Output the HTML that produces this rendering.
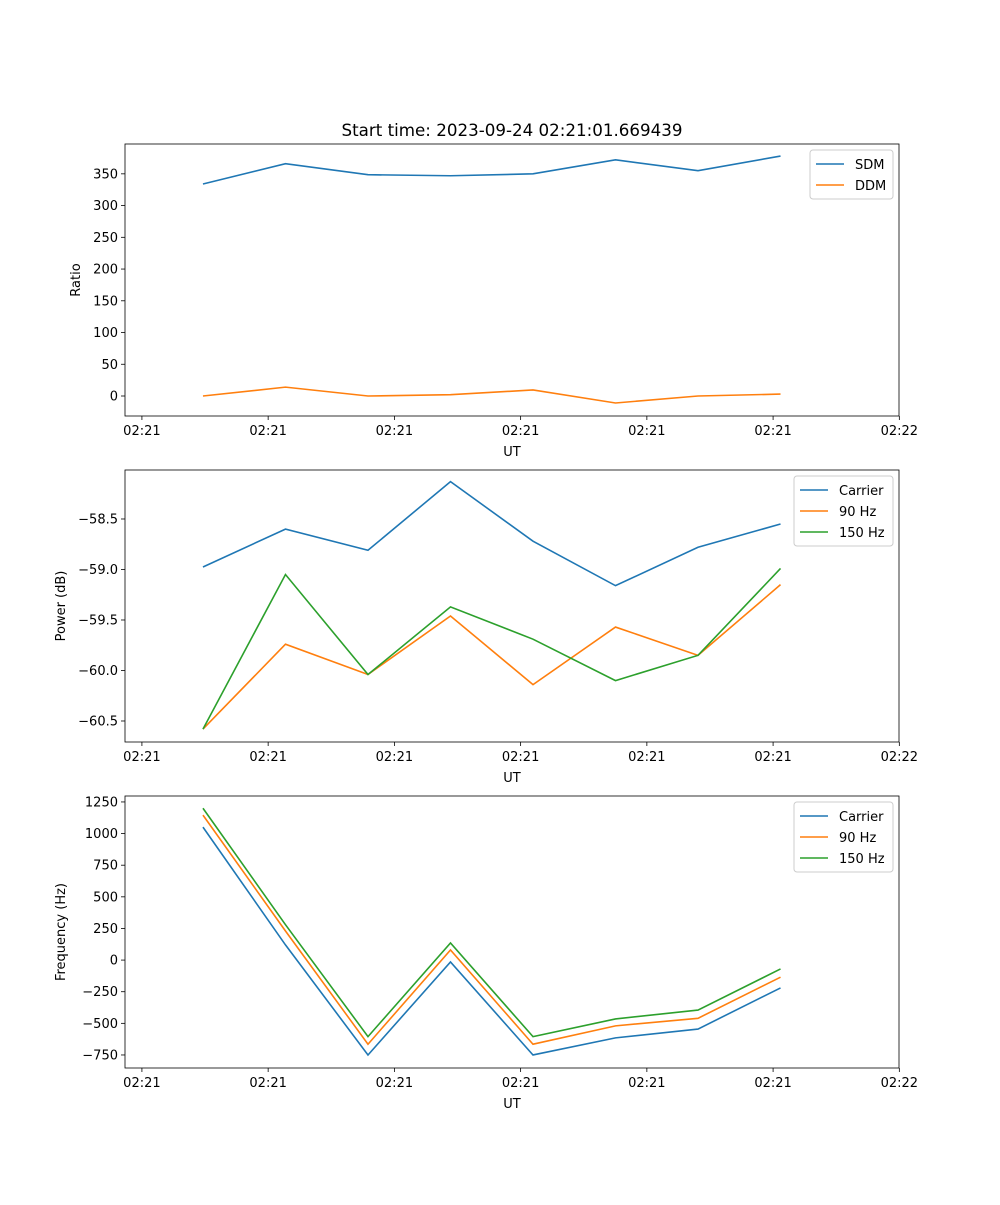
<!DOCTYPE html>
<html><head><meta charset="utf-8"><style>
body{margin:0;background:#fff}
svg text{font-family:"DejaVu Sans","Liberation Sans",sans-serif;font-size:13px;fill:#000}
</style></head><body>
<svg id="fig" width="1000" height="1200" xmlns="http://www.w3.org/2000/svg"></svg>
<script>
const xIdx = [0,1,2,3,4,5,6,7];
const xTickPos = [-0.74,0.79,2.32,3.85,5.38,6.91,8.44];
const xTickLabels = ["02:21","02:21","02:21","02:21","02:21","02:21","02:22"];
const sdm = [334,366,348.6,347,350,372,355,378];
const ddm = [0,14,0,2,9.5,-11,0,3];
const pCarrier = [-58.975,-58.60,-58.81,-58.13,-58.72,-59.16,-58.78,-58.55];
const p90 = [-60.58,-59.74,-60.04,-59.46,-60.14,-59.57,-59.85,-59.15];
const p150 = [-60.58,-59.05,-60.04,-59.37,-59.69,-60.10,-59.85,-58.99];
const fCarrier = [1051,120,-750,-15,-750,-615,-545,-220];
const f90 = [1146,230,-665,80,-665,-520,-460,-135];
const f150 = [1200,280,-605,135,-605,-465,-395,-70];
const ticks1 = [0,50,100,150,200,250,300,350];
const ticks2 = [-60.5,-60.0,-59.5,-59.0,-58.5];
const ticks2Labels = ["\u221260.5","\u221260.0","\u221259.5","\u221259.0","\u221258.5"];
const ticks3 = [-750,-500,-250,0,250,500,750,1000,1250];
const ticks3Labels = ["\u2212750","\u2212500","\u2212250","0","250","500","750","1000","1250"];

const NS="http://www.w3.org/2000/svg";
const svg=document.getElementById('fig');
function mk(tag,attrs,parent){const e=document.createElementNS(NS,tag);for(const k in attrs)e.setAttribute(k,attrs[k]);(parent||svg).appendChild(e);return e;}
const L=125,R=899,X0=-0.945,X1=8.436;
const sx=v=>L+(v-X0)/(X1-X0)*(R-L);
const C=["#1f77b4","#ff7f0e","#2ca02c"];

function panel(name,top,bot,ymin,ymax,ticks,tlabels,ylabel,series,names,legW){
  const g=mk('g',{});
  
  
  const sy=v=>bot-(v-ymin)/(ymax-ymin)*(bot-top);
  ticks.forEach((t,i)=>{
    const y=sy(t);
    mk('line',{x1:L-4,x2:L,y1:y,y2:y,stroke:'#000','stroke-width':0.8},g);
    const tx=mk('text',{x:L-7,y:y+4.5,'text-anchor':'end'},g);tx.textContent=tlabels[i];
    
    
  });
  xTickPos.forEach((t,i)=>{
    const x=sx(t);
    mk('line',{x1:x,x2:x,y1:bot,y2:bot+4,stroke:'#000','stroke-width':0.8},g);
    const tx=mk('text',{x:x,y:bot+19,'text-anchor':'middle'},g);tx.textContent=xTickLabels[i];
    
    
  });
  series.forEach((s,k)=>{
    const p=mk('polyline',{points:s.map((v,i)=>sx(xIdx[i])+','+sy(v)).join(' '),fill:'none',stroke:C[k],'stroke-width':1.6},g);
    
    
  });
  const fr=mk('rect',{x:L,y:top,width:R-L,height:bot-top,fill:'none',stroke:'#000','stroke-width':0.8},g);
  
  
  const xl=mk('text',{x:(L+R)/2,y:bot+40,'text-anchor':'middle'},g);xl.textContent='UT';
  
  
  const yx=L-(ylabel=='Ratio'?45:60),yc=(top+bot)/2;
  const yl=mk('text',{x:yx,y:yc,'text-anchor':'middle',transform:`rotate(-90 ${yx} ${yc})`},g);yl.textContent=ylabel;
  
  
  const lx=R-6-legW,ly=top+6,lh=names.length*21+7;
  const lg=mk('g',{},g);
  
  
  mk('rect',{x:lx,y:ly,width:legW,height:lh,rx:3,fill:'#fff',stroke:'#ccc','stroke-width':1},lg);
  names.forEach((n,k)=>{
    const yy=ly+14+k*21;
    mk('line',{x1:lx+6,x2:lx+34,y1:yy,y2:yy,stroke:C[k],'stroke-width':1.6},lg);
    const t=mk('text',{x:lx+45,y:yy+5},lg);t.textContent=n;
    
    
  });
}
const t=mk('text',{x:512,y:136,'text-anchor':'middle'});t.textContent='Start time: 2023-09-24 02:21:01.669439';


t.style.fontSize='16.7px';
panel('ratio-panel',144,416,-31.5,397,ticks1,ticks1.map(String),'Ratio',[sdm,ddm],['SDM','DDM'],83);
panel('power-panel',470,742,-60.708,-58.015,ticks2,ticks2Labels,'Power (dB)',[pCarrier,p90,p150],['Carrier','90 Hz','150 Hz'],99);
panel('frequency-panel',796,1068,-853,1297,ticks3,ticks3Labels,'Frequency (Hz)',[fCarrier,f90,f150],['Carrier','90 Hz','150 Hz'],99);
</script>
</body></html>
